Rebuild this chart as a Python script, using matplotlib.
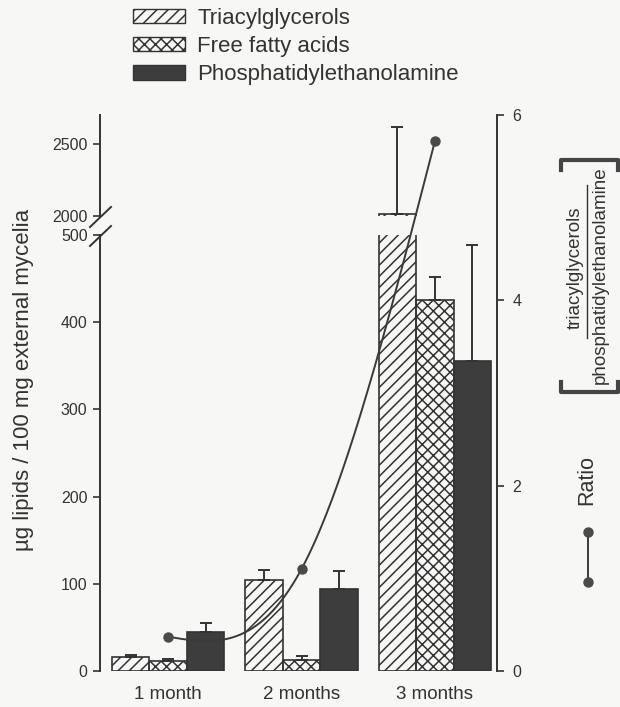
import numpy as np
import matplotlib
matplotlib.use("Agg")
import matplotlib.pyplot as plt
from matplotlib.lines import Line2D
from matplotlib.patches import Patch

# data
months = ["1 month", "2 months", "3 months"]
series = ["Triacylglycerols", "Free fatty acids", "Phosphatidylethanolamine"]
tag = [16, 104, 2015]
tag_err = [2, 12, 600]
ffa = [11.5, 13, 425]
ffa_err = [2.5, 4, 27]
pe = [45, 94, 356]
pe_err = [10, 21, 132]
ratio = [0.37, 1.10, 5.72]

INK = "#333333"
BG = "#f7f7f5"
plt.rcParams["font.family"] = ["Liberation Sans", "DejaVu Sans"]
plt.rcParams["hatch.linewidth"] = 1.1
plt.rcParams["hatch.color"] = INK

W_PX, H_PX = 620, 707


def fx(px):
    return px / W_PX


def fy(py):
    return 1 - py / H_PX


def natural_spline(x, y, n=200):
    """Smooth curve through the ratio points (natural cubic spline)."""
    x = np.asarray(x, float)
    y = np.asarray(y, float)
    h = np.diff(x)
    s = np.diff(y) / h
    k = len(x)
    A = np.zeros((k, k))
    r = np.zeros(k)
    A[0, 0] = A[-1, -1] = 1
    for i in range(1, k - 1):
        A[i, i - 1] = h[i - 1]
        A[i, i] = 2 * (h[i - 1] + h[i])
        A[i, i + 1] = h[i]
        r[i] = 6 * (s[i] - s[i - 1])
    M = np.linalg.solve(A, r)
    xs = np.linspace(x[0], x[-1], n)
    j = np.clip(np.searchsorted(x, xs) - 1, 0, k - 2)
    t0 = x[j + 1] - xs
    t1 = xs - x[j]
    hj = h[j]
    ys = ((M[j] * t0 ** 3 + M[j + 1] * t1 ** 3) / (6 * hj)
          + (y[j] / hj - M[j] * hj / 6) * t0
          + (y[j + 1] / hj - M[j + 1] * hj / 6) * t1)
    return xs, ys


fig = plt.figure(figsize=(6.2, 7.07), dpi=100, facecolor=BG)

left, width = fx(100), fx(497) - fx(100)
ax_bot = fig.add_axes([left, fy(671), width, fy(235) - fy(671)])
ax_top = fig.add_axes([left, fy(216), width, fy(115) - fy(216)])
ax_r = fig.add_axes([left, fy(671), width, fy(115) - fy(671)])

x = np.arange(len(months))
bw = 0.281
styles = [
    (tag, tag_err, dict(facecolor="none", hatch="///")),
    (ffa, ffa_err, dict(facecolor="none", hatch="xxx")),
    (pe, pe_err, dict(facecolor="#3d3d3d")),
]

for ax in (ax_bot, ax_top):
    ax.set_facecolor("none")
    for i, (vals, errs, st) in enumerate(styles):
        pos = x + (i - 1) * bw
        ax.bar(pos, vals, bw, edgecolor=INK, linewidth=1.2, **st)
        ax.errorbar(pos, vals, yerr=[np.zeros(len(errs)), errs], fmt="none",
                    ecolor=INK, elinewidth=1.4, capsize=4, capthick=1.4)
    ax.set_xlim(-0.51, 2.465)
    for sp in ("top", "right", "bottom"):
        ax.spines[sp].set_visible(False)
    ax.spines["left"].set_color(INK)
    ax.spines["left"].set_linewidth(1.4)
    ax.tick_params(axis="y", direction="out", length=5, width=1.2,
                   colors=INK, labelsize=11.5, pad=4)

ax_bot.set_ylim(0, 500)
ax_bot.set_yticks([0, 100, 200, 300, 400, 500])
ax_bot.set_xticks(x, months)
ax_bot.tick_params(axis="x", length=0, labelsize=13.5, colors=INK, pad=11)

ax_top.set_ylim(2000, 2700)
ax_top.set_yticks([2000, 2500])
ax_top.set_xticks([])

# axis break marks
for yb in (217, 236):
    fig.add_artist(Line2D([fx(90), fx(111)], [fy(yb + 10), fy(yb - 10)],
                          color=INK, linewidth=1.4))

# ratio on the right axis
ax_r.set_facecolor("none")
ax_r.set_xlim(-0.51, 2.465)
ax_r.set_ylim(0, 6)
xs, ys = natural_spline(x, ratio)
ax_r.plot(xs, ys, color="#3a3a3a", linewidth=1.4)
ax_r.plot(x, ratio, "o", color="#4a4a4a", markersize=6.5)
for sp in ("top", "left", "bottom"):
    ax_r.spines[sp].set_visible(False)
ax_r.spines["right"].set_color(INK)
ax_r.spines["right"].set_linewidth(1.4)
ax_r.yaxis.tick_right()
ax_r.set_yticks([0, 2, 4, 6])
ax_r.set_xticks([])
ax_r.tick_params(axis="y", direction="out", length=5, width=1.2,
                 colors=INK, labelsize=11.5, pad=6)

# left axis title
fig.text(fx(24), fy(380), "\u00b5g lipids / 100 mg external mycelia",
         rotation=90, ha="center", va="center", fontsize=16, color=INK)

# right axis title: Ratio [triacylglycerols / phosphatidylethanolamine]
fig.text(fx(587), fy(480), "Ratio", rotation=90, ha="center", va="center",
         fontsize=15.5, color=INK)
fig.add_artist(Line2D([fx(588), fx(588)], [fy(532), fy(582)], color="#3a3a3a",
                      linewidth=1.4, marker="o", markersize=6.5,
                      markerfacecolor="#4a4a4a", markeredgecolor="#4a4a4a"))
fig.text(fx(575), fy(268), "triacylglycerols", rotation=90, ha="center",
         va="center", fontsize=13.5, color=INK)
fig.add_artist(Line2D([fx(587), fx(587)], [fy(185), fy(338)], color=INK,
                      linewidth=1.0))
fig.text(fx(600), fy(275), "phosphatidylethanolamine", rotation=90,
         ha="center", va="center", fontsize=13.5, color=INK)
for yb, d in ((160, 10), (392, -10)):
    fig.add_artist(Line2D([fx(561), fx(561), fx(618), fx(618)],
                          [fy(yb + d), fy(yb), fy(yb), fy(yb + d)],
                          color="#444444", linewidth=3))

handles = [Patch(facecolor="none", edgecolor=INK, hatch="///", linewidth=1.0),
           Patch(facecolor="none", edgecolor=INK, hatch="xxx", linewidth=1.0),
           Patch(facecolor="#3d3d3d", edgecolor=INK, linewidth=1.0)]
fig.legend(handles, series, loc="upper left", bbox_to_anchor=(fx(133), fy(8)),
           frameon=False, fontsize=16, borderpad=0, borderaxespad=0,
           handlelength=2.35, handleheight=0.62, handletextpad=0.55,
           labelspacing=0.32, labelcolor=INK)

fig.savefig("out.png", dpi=100, facecolor=BG)
